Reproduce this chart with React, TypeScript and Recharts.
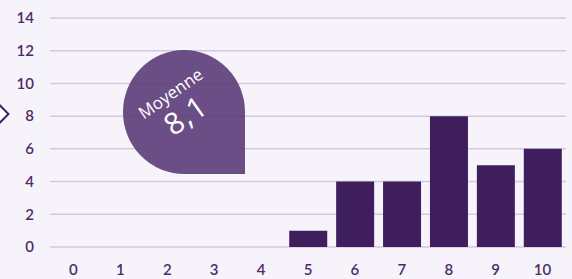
import React from "react";
import { BarChart, Bar, XAxis, YAxis, CartesianGrid } from "recharts";

const notes = ["0", "1", "2", "3", "4", "5", "6", "7", "8", "9", "10"];
const counts = [0, 0, 0, 0, 0, 1, 4, 4, 8, 5, 6];
const yTicks = [0, 2, 4, 6, 8, 10, 12, 14];
const averageLabel = "Moyenne";
const averageValue = "8,1";

const data = notes.map((n, i) => ({ note: n, count: counts[i] }));

const textColor = "#4b2c6b";
const font = "Lato, 'Open Sans', sans-serif";

const App: React.FC = () => {
  return (
    <div
      style={{
        position: "fixed",
        left: 0,
        top: 0,
        width: 572,
        height: 279,
        background: "#f6f4fa",
        overflow: "hidden",
        fontFamily: font,
      }}
    >
      <BarChart
        width={572}
        height={279}
        data={data}
        margin={{ top: 18, right: 6, left: 0, bottom: 0 }}
        barCategoryGap="10%"
      >
        <CartesianGrid vertical={false} stroke="#d3c9df" strokeWidth={1.5} />
        <XAxis
          dataKey="note"
          height={32}
          axisLine={false}
          tickLine={false}
          tickMargin={11}
          interval={0}
          tick={{ fill: textColor, fontSize: 15, fontWeight: 600, fontFamily: font }}
        />
        <YAxis
          width={50}
          domain={[0, 14]}
          ticks={yTicks}
          axisLine={false}
          tickLine={false}
          tickMargin={10}
          tick={{ fill: textColor, fontSize: 15, fontWeight: 600, fontFamily: font }}
        />
        <Bar dataKey="count" fill="#3f1e5e" isAnimationActive={false} />
      </BarChart>

      {/* small diamond on the left edge */}
      <div
        style={{
          position: "absolute",
          left: -7,
          top: 107,
          width: 10,
          height: 10,
          border: "2px solid #3f1e5e",
          transform: "rotate(45deg)",
          background: "#ffffff",
        }}
      />

      {/* average badge */}
      <div
        style={{
          position: "absolute",
          left: 123,
          top: 50,
          width: 122,
          height: 124,
          borderRadius: "50% 50% 0 50%",
          background: "rgba(92,60,120,0.9)",
        }}
      />
      <div
        style={{
          position: "absolute",
          left: 122,
          top: 80,
          width: 120,
          height: 60,
          transform: "rotate(-35deg)",
          color: "#ffffff",
          textAlign: "center",
          fontFamily: "'Open Sans', sans-serif",
        }}
      >
        <div style={{ fontSize: 17, lineHeight: "19px", fontWeight: 400 }}>{averageLabel}</div>
        <div style={{ fontSize: 30, lineHeight: "34px", fontWeight: 400, marginTop: 0, letterSpacing: 1 }}>{averageValue}</div>
      </div>
    </div>
  );
};

export default App;
